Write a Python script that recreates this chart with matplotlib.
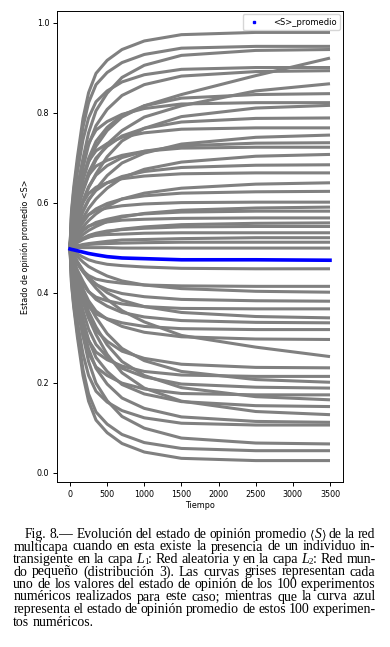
import numpy as np
import matplotlib
matplotlib.use('Agg')
import matplotlib.pyplot as plt
from matplotlib.lines import Line2D

# tiempos en los que se leyeron los valores de cada curva
tiempo = [0, 20, 50, 100, 175, 250, 350, 500, 700, 1000, 1500, 2500, 3500]

# experimentos que terminan por encima de 0.5
curvas_altas = [
    [0.5, .581, .634, .701, .787, .844, .887, .916, .940, .959, .973, .978, .978],
    [0.5, .576, .625, .688, .768, .822, .862, .889, .911, .929, .943, .947, .947],
    [0.5, .544, .579, .632, .698, .755, .804, .843, .878, .905, .927, .938, .940],
    [0.5, .535, .565, .605, .650, .690, .725, .760, .790, .815, .840, .882, .921],
    [0.5, .568, .612, .668, .740, .788, .824, .848, .868, .884, .896, .900, .900],
    [0.5, .539, .571, .618, .677, .728, .771, .807, .838, .862, .881, .891, .893],
    [0.5, .525, .550, .585, .625, .660, .695, .730, .760, .790, .815, .848, .864],
    [0.5, .534, .562, .603, .654, .698, .736, .767, .794, .815, .832, .840, .842],
    [0.5, .555, .590, .635, .693, .732, .761, .780, .796, .809, .819, .822, .822],
    [0.5, .519, .535, .563, .601, .633, .664, .702, .737, .765, .791, .810, .816],
    [0.5, .529, .552, .586, .630, .667, .699, .725, .748, .765, .779, .787, .788],
    [0.5, .545, .574, .612, .660, .692, .715, .731, .745, .755, .763, .766, .766],
    [0.5, .515, .528, .550, .580, .605, .630, .660, .688, .710, .730, .745, .750],
    [0.5, .523, .542, .570, .605, .635, .661, .682, .700, .714, .726, .732, .733],
    [0.5, .538, .562, .594, .634, .661, .681, .694, .705, .714, .721, .723, .723],
    [0.5, .512, .523, .541, .566, .587, .608, .632, .655, .674, .690, .703, .707],
    [0.5, .518, .533, .555, .583, .607, .627, .644, .658, .669, .678, .683, .684],
    [0.5, .528, .546, .570, .600, .620, .634, .644, .653, .659, .664, .666, .666],
    [0.5, .509, .516, .529, .546, .560, .575, .592, .608, .621, .632, .641, .644],
    [0.5, .513, .523, .538, .556, .573, .586, .598, .608, .615, .621, .624, .625],
    [0.5, .517, .528, .542, .561, .573, .582, .588, .593, .597, .600, .601, .601],
    [0.5, .505, .510, .518, .529, .538, .547, .558, .568, .576, .583, .588, .590],
    [0.5, .508, .515, .524, .537, .547, .556, .563, .570, .575, .579, .581, .581],
    [0.5, .511, .519, .528, .540, .548, .553, .557, .561, .563, .565, .566, .566],
    [0.5, .503, .506, .511, .518, .523, .529, .535, .541, .546, .551, .554, .555],
    [0.5, .505, .508, .514, .521, .527, .532, .537, .540, .543, .546, .547, .547],
    [0.5, .506, .509, .514, .520, .524, .527, .529, .530, .532, .533, .533, .533],
    [0.5, .501, .502, .504, .507, .509, .511, .514, .517, .518, .520, .522, .522],
    [0.5, .501, .502, .504, .505, .507, .508, .509, .510, .511, .512, .512, .512],
    [0.5, .500, .500, .500, .500, .500, .500, .500, .499, .499, .499, .499, .499],
]

# experimentos que terminan por debajo de 0.5
curvas_bajas = [
    [0.5, .495, .492, .486, .479, .473, .468, .463, .460, .457, .454, .453, .453],
    [0.5, .485, .476, .464, .448, .438, .430, .425, .421, .417, .415, .414, .414],
    [0.5, .494, .489, .480, .468, .458, .449, .437, .426, .417, .409, .403, .401],
    [0.5, .488, .479, .464, .446, .431, .418, .407, .398, .391, .385, .382, .381],
    [0.5, .477, .462, .443, .418, .402, .390, .382, .375, .369, .365, .364, .364],
    [0.5, .491, .483, .469, .450, .434, .419, .400, .383, .369, .356, .347, .344],
    [0.5, .483, .470, .450, .425, .403, .385, .370, .356, .346, .338, .334, .333],
    [0.5, .469, .449, .424, .391, .369, .353, .342, .333, .325, .320, .318, .318],
    [0.5, .480, .463, .439, .408, .382, .359, .341, .325, .312, .302, .297, .296],
    [0.5, .492, .482, .468, .448, .430, .410, .385, .360, .335, .305, .279, .258],
    [0.5, .473, .452, .420, .380, .345, .316, .292, .270, .254, .241, .234, .233],
    [0.5, .451, .420, .380, .328, .294, .268, .251, .237, .225, .217, .214, .214],
    [0.5, .482, .467, .440, .404, .374, .345, .309, .276, .249, .225, .207, .201],
    [0.5, .469, .444, .406, .360, .319, .285, .257, .232, .213, .197, .190, .188],
    [0.5, .444, .408, .363, .304, .265, .235, .216, .199, .186, .176, .173, .173],
    [0.5, .480, .463, .432, .392, .358, .324, .284, .247, .216, .189, .169, .162],
    [0.5, .465, .437, .394, .341, .295, .256, .225, .196, .175, .158, .149, .147],
    [0.5, .478, .459, .426, .381, .344, .307, .263, .222, .188, .159, .136, .129],
    [0.5, .461, .430, .384, .325, .275, .232, .197, .166, .143, .124, .114, .112],
    [0.5, .433, .390, .335, .264, .216, .181, .157, .138, .122, .110, .106, .106],
    [0.5, .456, .422, .369, .304, .247, .199, .160, .125, .099, .077, .066, .064],
    [0.5, .423, .374, .311, .229, .175, .135, .108, .085, .067, .054, .049, .049],
    [0.5, .420, .368, .301, .216, .159, .117, .089, .065, .046, .032, .027, .027],
]

# curva azul: promedio de los experimentos
promedio = [.497, .496, .495, .493, .490, .487, .484, .480, .477, .4755, .473, .473, .472]

x_ticks = [0, 500, 1000, 1500, 2000, 2500, 3000, 3500]
y_ticks = [0.0, 0.2, 0.4, 0.6, 0.8, 1.0]

leyenda = '<S>_promedio'
xlabel = 'Tiempo'
ylabel = 'Estado de opinión promedio <S>'

# pie de figura, una entrada por renglón como en el original
pie = [
    'Fig. 8.— Evolución del estado de opinión promedio ⟨S⟩ de la red',
    'multicapa cuando en esta existe la presencia de un individuo in-',
    'transigente en la capa L_1: Red aleatoria y en la capa L_2: Red mun-',
    'do pequeño (distribución 3). Las curvas grises representan cada',
    'uno de los valores del estado de opinión de los 100 experimentos',
    'numéricos realizados para este caso; mientras que la curva azul',
    'representa el estado de opinión promedio de estos 100 experimen-',
    'tos numéricos.',
]

W, H = 390, 647
fig = plt.figure(figsize=(W / 100, H / 100), dpi=100)
ax = fig.add_axes([57 / W, 1 - 482 / H, (343 - 57) / W, (482 - 11) / H])

for c in curvas_altas + curvas_bajas:
    ax.plot(tiempo, c, color='#808080', lw=2.2, solid_capstyle='butt',
            solid_joinstyle='round', zorder=2)
ax.plot(tiempo, promedio, color='#0000ff', lw=2.6, zorder=3)

ax.set_xticks(x_ticks)
ax.set_yticks(y_ticks)
ax.tick_params(labelsize=5.8, length=3, width=0.7, pad=2.5)
ax.set_xlabel(xlabel, fontsize=5.8, labelpad=2)
ax.set_ylabel(ylabel, fontsize=5.8, labelpad=5)
for s in ax.spines.values():
    s.set_linewidth(0.7)

handle = Line2D([], [], ls='', marker='s', ms=1.5, color='#0000ff')
ax.legend([handle], [leyenda], loc='upper right', fontsize=6.0,
          handlelength=2.0, handletextpad=1.2, borderaxespad=0.4)

renderer = fig.canvas.get_renderer()
SERIF = 'Liberation Serif'


def trozos(palabra):
    # (texto, familia, estilo, escala, bajada en px)
    if palabra == '⟨S⟩':
        return [('⟨', 'DejaVu Serif', 'normal', 0.85, 0), ('S', SERIF, 'italic', 1.0, 0),
                ('⟩', 'DejaVu Serif', 'normal', 0.85, 0)]
    if palabra.startswith('L_'):
        return [('L', SERIF, 'italic', 1.0, 0), (palabra[2], SERIF, 'normal', 0.65, 1.0),
                (palabra[3:], SERIF, 'normal', 1.0, 0)]
    return [(palabra, SERIF, 'normal', 1.0, 0)]


def crear(palabra, size):
    partes = []
    for txt, fam, estilo, esc, dy in trozos(palabra):
        t = fig.text(0, 0, txt, family=fam, style=estilo, fontsize=size * esc,
                     va='baseline', ha='left')
        partes.append((t, t.get_window_extent(renderer).width, dy))
    return partes


# pie de figura justificado a mano (el tamaño baja si el renglón no cabe)
x_der = 375.5
for i, linea in enumerate(pie):
    palabras = linea.split(' ')
    x = 25.0 if i == 0 else 13.3
    size = 10.0
    while True:
        grupos = [crear(p, size) for p in palabras]
        anchos = [sum(a for _, a, _ in g) for g in grupos]
        hueco = (x_der - x - sum(anchos)) / (len(palabras) - 1)
        if hueco >= 2.8 or i == len(pie) - 1:
            break
        for g in grupos:
            for t, _, _ in g:
                t.remove()
        size -= 0.2
    if i == len(pie) - 1:
        hueco = 3.5
    y = 538.0 + i * 12.5
    for g in grupos:
        for t, a, dy in g:
            t.set_position((x / W, 1 - (y + dy) / H))
            x += a
        x += hueco

fig.savefig('out.png', dpi=100)
